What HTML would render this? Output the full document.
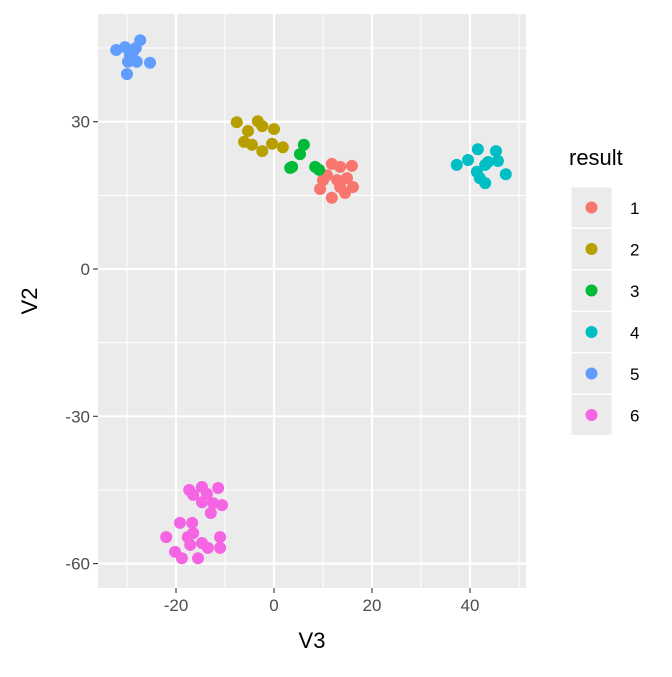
<!DOCTYPE html>
<html><head><meta charset="utf-8"><style>
body{margin:0;background:#fff;font-family:"Liberation Sans",Arial,sans-serif}
</style></head><body>
<svg id="chart" width="672" height="672" xmlns="http://www.w3.org/2000/svg"></svg>
<script>
const groups=["1","2","3","4","5","6"];
const colors=["#F8766D","#B79F00","#00BA38","#00BFC4","#619CFF","#F564E3"];
const x1=[11.8,13.5,15.9,10.8,12.9,14.9,16.1,9.4,11.8,14.5,13.5,10];
const y1=[21.4,20.8,21,19.1,18.1,18.5,16.7,16.3,14.5,15.5,16.7,18.1];
const x2=[-7.6,-5.3,-3.3,-2.4,0,-6.1,-4.5,-2.4,-0.4,1.8];
const y2=[29.9,28.1,30.1,29.1,28.5,25.9,25.3,24,25.5,24.8];
const x3=[6.1,5.3,3.7,8.4,9.2,3.3];
const y3=[25.3,23.4,20.8,20.8,20.2,20.6];
const x4=[37.3,39.6,41.6,45.3,45.7,43.1,41.4,42,43.1,47.3,43.7];
const y4=[21.2,22.2,24.4,24,22,21.2,19.8,18.5,17.5,19.3,21.8];
const x5=[-32.2,-30.4,-27.3,-29.4,-29.8,-28,-25.3,-30,-28.8,-28.2];
const y5=[44.6,45.2,46.6,43.6,42.2,42.2,42,39.7,44.2,45];
const x6=[-17.3,-14.7,-13.7,-11.4,-16.5,-14.7,-12.4,-10.6,-12.9,-19.2,-16.7,-22,-16.5,-17.1,-14.7,-11,-13.5,-11,-20.2,-18.8,-15.5,-17.6];
const y6=[-45,-44.4,-45.8,-44.6,-46,-47.5,-47.7,-48.1,-49.7,-51.7,-51.7,-54.6,-53.8,-56.2,-55.8,-54.6,-56.8,-56.8,-57.6,-58.9,-58.9,-54.6];
const xTicks=[-20,0,20,40];
const yTicks=[30,0,-30,-60];
const xs=[x1,x2,x3,x4,x5,x6], ys=[y1,y2,y3,y4,y5,y6];
const NS="http://www.w3.org/2000/svg";
const svg=document.getElementById('chart');
const L=98,R=526,T=14,B=588;
const sx=v=>274+v*4.9, sy=v=>269-v*4.91;
function el(t,a,p){const e=document.createElementNS(NS,t);for(const k in a)e.setAttribute(k,a[k]);(p||svg).appendChild(e);return e;}
const panel=el('rect',{x:L,y:T,width:R-L,height:B-T,fill:'#EBEBEB'});


for(let i=0;i<xTicks.length+1;i++){const v=xTicks[0]-10+20*i;const g=el('line',{x1:sx(v),x2:sx(v),y1:T,y2:B,stroke:'#fff','stroke-width':1});

}
for(let i=0;i<yTicks.length;i++){const v=yTicks[i]+15;const g=el('line',{y1:sy(v),y2:sy(v),x1:L,x2:R,stroke:'#fff','stroke-width':1});

}
xTicks.forEach(v=>{const g=el('line',{x1:sx(v),x2:sx(v),y1:T,y2:B,stroke:'#fff','stroke-width':2.2});


el('line',{x1:sx(v),x2:sx(v),y1:B,y2:B+5,stroke:'#333','stroke-width':1.1});
const t=el('text',{x:sx(v),y:B+23,'text-anchor':'middle','font-size':17,fill:'#4D4D4D'});t.textContent=v;

});
yTicks.forEach(v=>{const g=el('line',{y1:sy(v),y2:sy(v),x1:L,x2:R,stroke:'#fff','stroke-width':2.2});


el('line',{y1:sy(v),y2:sy(v),x1:L-5,x2:L,stroke:'#333','stroke-width':1.1});
const t=el('text',{x:L-8,y:sy(v)+6,'text-anchor':'end','font-size':17,fill:'#4D4D4D'});t.textContent=v;

});
xs.forEach((arr,g)=>arr.forEach((v,i)=>{const c=el('circle',{cx:sx(v),cy:sy(ys[g][i]),r:6,fill:colors[g]});

}));
const xt=el('text',{x:(L+R)/2,y:648,'text-anchor':'middle','font-size':22,fill:'#000'});xt.textContent='V3';


const yt=el('text',{x:0,y:0,'text-anchor':'middle','font-size':22,fill:'#000',transform:`translate(37,${(T+B)/2}) rotate(-90)`});yt.textContent='V2';


const lt=el('text',{x:569,y:165,'font-size':22,fill:'#000'});lt.textContent='result';


groups.forEach((g,i)=>{const y=187+i*41.5;
const r=el('rect',{x:571,y:y,width:41,height:41,fill:'#EBEBEB',stroke:'#fff','stroke-width':1});


const c=el('circle',{cx:591.5,cy:y+20.5,r:6,fill:colors[i]});


const t=el('text',{x:630,y:y+27,'font-size':17,fill:'#000'});t.textContent=g;

});
</script>
</body></html>
